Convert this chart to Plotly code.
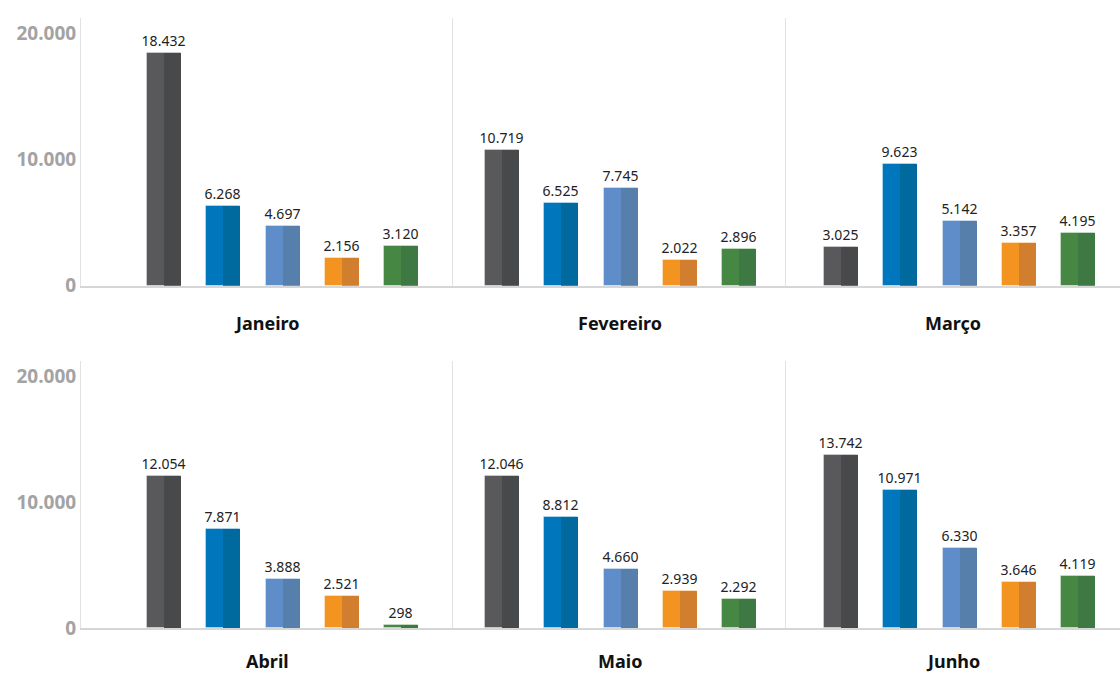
import plotly.graph_objects as go

months = ["Janeiro", "Fevereiro", "Março", "Abril", "Maio", "Junho"]
series_names = ["Série 1", "Série 2", "Série 3", "Série 4", "Série 5"]
jan = [18432, 6268, 4697, 2156, 3120]
fev = [10719, 6525, 7745, 2022, 2896]
mar = [3025, 9623, 5142, 3357, 4195]
abr = [12054, 7871, 3888, 2521, 298]
mai = [12046, 8812, 4660, 2939, 2292]
jun = [13742, 10971, 6330, 3646, 4119]
month_values = [jan, fev, mar, abr, mai, jun]
y_tick_vals = [0, 10000, 20000]

light_colors = ["#59595b", "#0076bd", "#5f8dc9", "#f39420", "#468843"]
dark_colors = ["#48494b", "#006a9f", "#577fab", "#d17f2f", "#3e7943"]

W, H = 1120, 673
# pixel layout of panels
col_px = [(81, 453), (453, 786), (786, 1120)]
first_center_px = [164, 502, 841]
unit_px = 59.3
row_px = [(18, 285.7), (361, 628.3)]
label_shift = [-37, -33]
y_top = 21180
bar_w = 0.573

fig = go.Figure()
for k, (name, vals) in enumerate(zip(months, month_values)):
    r, c = divmod(k, 3)
    sfx = "" if k == 0 else str(k + 1)
    xa, ya = "x" + sfx, "y" + sfx
    x0, x1 = col_px[c]
    top, base = row_px[r]
    fc = first_center_px[c]
    xr = [-(fc - x0) / unit_px, (x1 - fc) / unit_px]
    for i, v in enumerate(vals):
        fig.add_trace(go.Bar(
            x=[i], y=[v], width=bar_w, xaxis=xa, yaxis=ya,
            marker=dict(color=light_colors[i], line=dict(color="rgba(255,255,255,0.35)", width=1)),
            text=[v], texttemplate="%{y:,}", textposition="outside", constraintext="none",
            textfont=dict(family="Noto Sans", size=14, color="#222222"),
            cliponaxis=False, showlegend=False, name=series_names[i],
        ))
        fig.add_trace(go.Bar(
            x=[i], y=[v], width=bar_w / 2, offset=0, xaxis=xa, yaxis=ya,
            marker=dict(color=dark_colors[i], line=dict(width=0)),
            showlegend=False, name=series_names[i], hoverinfo="skip",
        ))
    fig.layout["xaxis" + sfx] = dict(
        domain=[x0 / W, x1 / W], range=xr, anchor=ya, automargin=False,
        showticklabels=False, showgrid=False, zeroline=False,
        showline=True, linecolor="#d6d6d6", linewidth=2, ticks="",
    )
    fig.layout["yaxis" + sfx] = dict(
        domain=[(H - base) / H, (H - top) / H], range=[0, y_top], anchor=xa, automargin=False,
        showgrid=False, zeroline=False, showline=True, linecolor="#e2e2e2", linewidth=1,
        tickvals=y_tick_vals, tickformat=",", showticklabels=(c == 0), ticks="",
        tickfont=dict(family="Open Sans", size=19, color="#a3a3a3", weight="bold"),
    )
    fig.add_annotation(
        text=name, xref=xa + " domain", yref=ya + " domain", x=0.5, y=0,
        xanchor="center", yanchor="middle", yshift=label_shift[r], showarrow=False,
        borderpad=0,
        font=dict(family="Noto Sans", size=18, color="#111111", weight="bold"),
    )

fig.update_layout(
    width=W, height=H, margin=dict(l=0, r=0, t=0, b=0, pad=0, autoexpand=False),
    autosize=False, barmode="overlay", bargap=0, separators=",.",
    plot_bgcolor="white", paper_bgcolor="white",
)
page_css = (
    "var s=document.createElement('style');"
    "s.textContent='html,body{margin:0;padding:0;overflow:hidden;width:1120px;height:673px;}';"
    "document.head.appendChild(s);"
)
fig.write_html(
    "out.html",
    config={"displayModeBar": False, "responsive": False},
    post_script=page_css,
)
